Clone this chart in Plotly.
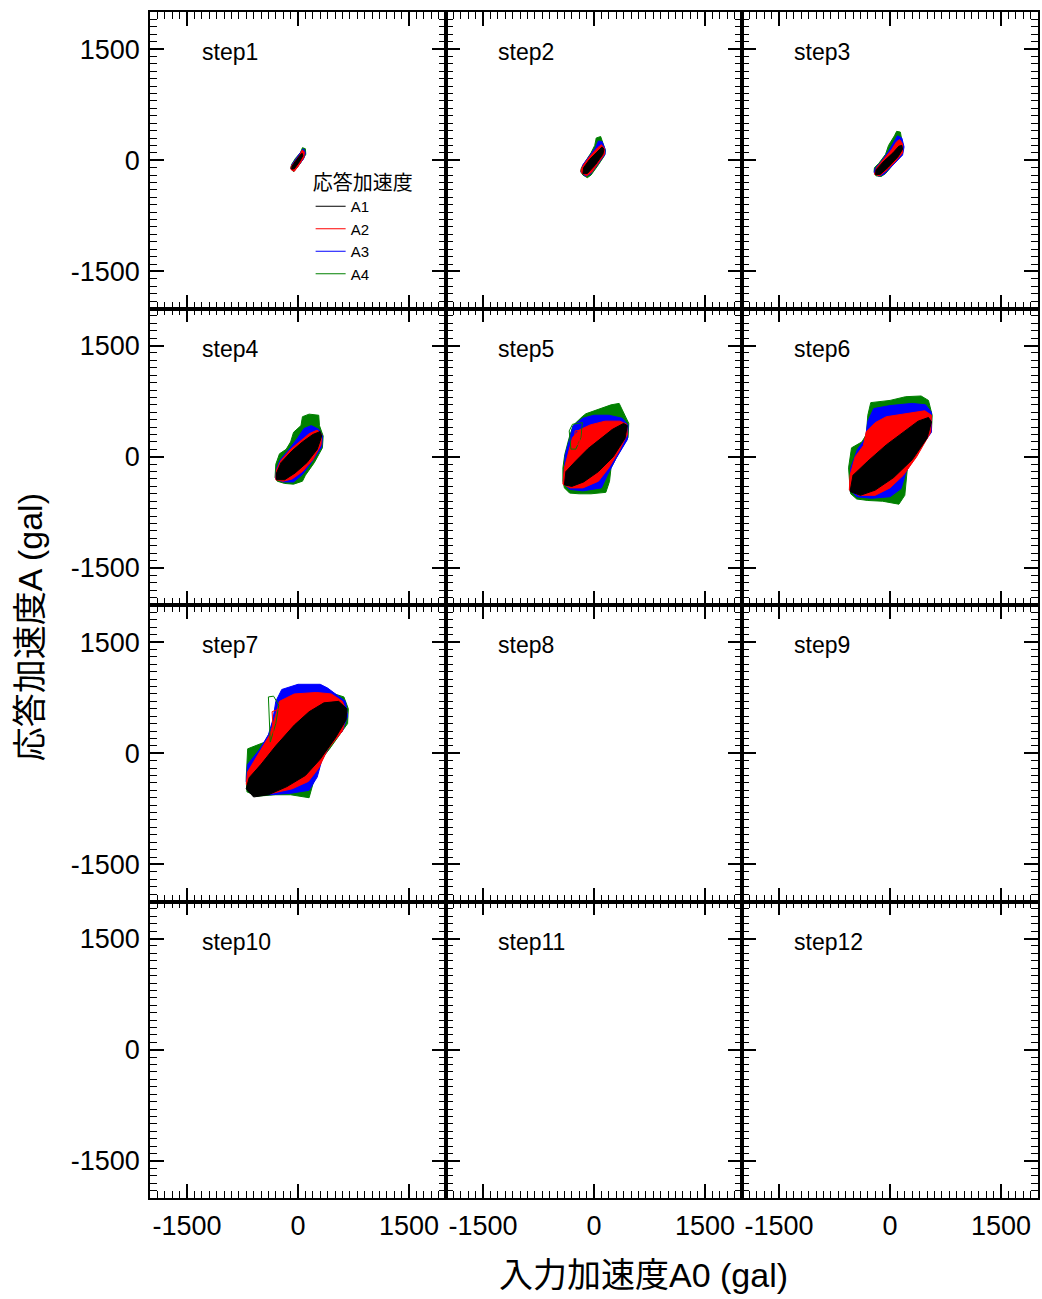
import plotly.graph_objects as go
from plotly.subplots import make_subplots

# ---------------- data (units: gal) ----------------
STEP_NAMES = ["step1", "step2", "step3", "step4", "step5", "step6",
              "step7", "step8", "step9", "step10", "step11", "step12"]
SERIES = ["A1", "A2", "A3", "A4"]
COLORS = ["#000000", "#ff0000", "#0000ff", "#008000"]
TICK_VALS = [-1500, 0, 1500]
TICK_TEXT = ["-1500", "0", "1500"]
AXIS_RANGE = [-2000, 2000]

# outline of each response loop cloud (x = input A0, y = response A)
step1_A1 = [(-85, -120), (-50, -115), (20, -20), (65, 60), (55, 95), (25, 65), (-40, -20), (-80, -80)]
step1_A2 = [(-95, -125), (-50, -150), (10, -70), (80, 40), (85, 115), (55, 135), (20, 65), (-50, -25), (-90, -80)]
step1_A3 = [(-95, -115), (-55, -145), (0, -80), (75, 20), (100, 100), (75, 155), (40, 115), (-25, 25), (-80, -55)]
step1_A4 = [(-100, -110), (-60, -155), (-20, -110), (60, 0), (105, 80), (100, 155), (60, 170), (35, 105), (-35, 25), (-85, -55)]

step2_A1 = [(-150, -180), (-90, -180), (20, -60), (120, 80), (135, 150), (110, 180), (40, 110), (-60, 10), (-140, -100)]
step2_A2 = [(-170, -170), (-100, -210), (-30, -160), (60, -40), (140, 80), (140, 160), (100, 210), (50, 170), (-50, 60), (-140, -60), (-175, -130)]
step2_A3 = [(-175, -160), (-120, -215), (-50, -190), (60, -50), (150, 80), (150, 150), (110, 250), (60, 260), (20, 170), (-60, 60), (-150, -60)]
step2_A4 = [(-180, -150), (-150, -200), (-90, -235), (-40, -200), (60, -60), (140, 60), (155, 130), (120, 250), (90, 320), (30, 300), (10, 200), (-40, 100), (-120, -20), (-170, -100)]

step3_A1 = [(-195, -195), (-130, -190), (-20, -90), (110, 50), (170, 150), (160, 200), (120, 190), (40, 100), (-80, -10), (-190, -130)]
step3_A2 = [(-210, -190), (-140, -210), (-40, -130), (70, -20), (170, 100), (170, 220), (130, 280), (90, 250), (20, 140), (-80, 20), (-180, -100)]
step3_A3 = [(-215, -170), (-150, -215), (-80, -190), (40, -70), (170, 70), (190, 180), (160, 300), (100, 330), (60, 260), (-20, 120), (-120, -20), (-200, -110)]
step3_A4 = [(-215, -150), (-190, -210), (-120, -220), (-60, -180), (40, -60), (150, 60), (180, 160), (160, 280), (140, 380), (90, 390), (60, 330), (-20, 200), (-60, 80), (-150, -40), (-210, -100)]

step4_A1 = [(-290, -310), (-180, -310), (-40, -220), (120, -80), (260, 100), (320, 280), (300, 340), (200, 300), (60, 200), (-80, 80), (-230, -80), (-290, -220)]
step4_A2 = [(-300, -310), (-200, -330), (-80, -300), (60, -200), (200, -40), (310, 160), (320, 300), (260, 360), (150, 310), (40, 220), (-100, 100), (-230, -50), (-290, -180)]
step4_A3 = [(-300, -300), (-200, -340), (-60, -340), (60, -240), (180, -80), (320, 130), (330, 280), (280, 370), (180, 420), (80, 380), (0, 260), (-120, 100), (-240, -40), (-290, -160)]
step4_A4 = [(-310, -280), (-280, -330), (-180, -360), (-60, -370), (60, -330), (100, -250), (220, -80), (330, 120), (340, 280), (290, 420), (280, 560), (150, 575), (60, 540), (40, 420), (-60, 330), (-100, 200), (-160, 100), (-250, 40), (-300, -100)]

step5_A1 = [(-400, -380), (-300, -400), (-140, -340), (60, -200), (260, 0), (420, 250), (450, 420), (400, 450), (250, 370), (80, 230), (-80, 110), (-250, -60), (-380, -200)]
step5_A2 = [(-420, -370), (-320, -420), (-150, -420), (60, -330), (200, -150), (340, 80), (450, 300), (440, 440), (350, 480), (150, 480), (-50, 430), (-200, 360), (-290, 260), (-330, 100), (-400, -150)]
step5_A3 = [(-410, -360), (-330, -440), (-150, -460), (100, -420), (180, -250), (300, -20), (450, 230), (460, 430), (380, 520), (200, 560), (0, 560), (-150, 520), (-280, 420), (-330, 250), (-390, 20)]
step5_A4 = [(-420, -330), (-400, -420), (-330, -490), (-200, -500), (-40, -500), (160, -480), (210, -330), (230, -150), (330, 40), (460, 260), (470, 450), (400, 600), (340, 720), (230, 700), (80, 650), (-110, 580), (-160, 540), (-285, 420), (-340, 240), (-395, 30), (-420, -150)]
# loose single loops visible at the edge of the clouds
step5_A4_loop = [(-312, 103), (-335, 348), (-291, 438), (-157, 460), (-178, 259), (-245, 103)]
step5_A2_loop = [(-268, 147), (-255, 348), (-178, 358), (-205, 170)]

step6_A1 = [(-540, -470), (-400, -520), (-200, -450), (50, -280), (300, -40), (500, 250), (560, 470), (520, 530), (380, 480), (180, 330), (-50, 160), (-300, -60), (-500, -250)]
step6_A2 = [(-550, -450), (-420, -520), (-200, -520), (0, -420), (180, -250), (360, 0), (550, 330), (560, 560), (470, 620), (250, 590), (-50, 540), (-200, 460), (-320, 340), (-360, 150), (-470, 0), (-540, -250)]
step6_A3 = [(-540, -440), (-450, -540), (-250, -560), (0, -540), (150, -430), (220, -200), (380, 80), (560, 330), (560, 600), (480, 700), (300, 720), (0, 690), (-220, 650), (-300, 480), (-330, 250), (-440, 100), (-530, -150)]
step6_A4 = [(-540, -420), (-530, -500), (-450, -570), (-300, -590), (-100, -600), (120, -640), (200, -520), (220, -300), (240, -100), (380, 120), (560, 350), (570, 560), (520, 760), (420, 820), (210, 810), (0, 760), (-260, 730), (-300, 560), (-320, 300), (-380, 200), (-520, 120), (-560, -150)]

step7_A1 = [(-700, -480), (-600, -590), (-400, -560), (-150, -450), (100, -300), (300, -80), (500, 200), (650, 450), (660, 600), (550, 700), (350, 680), (150, 560), (-50, 380), (-300, 100), (-500, -150), (-660, -330)]
step7_A2 = [(-700, -420), (-580, -530), (-350, -540), (-80, -480), (140, -380), (280, -200), (400, 50), (600, 300), (660, 550), (600, 700), (450, 800), (250, 820), (-50, 800), (-250, 700), (-320, 450), (-380, 250), (-500, 50), (-680, -250)]
step7_A3 = [(-700, -380), (-600, -540), (-380, -560), (-100, -540), (150, -500), (260, -320), (320, -100), (430, 100), (600, 300), (670, 500), (640, 700), (400, 880), (300, 930), (0, 930), (-220, 860), (-300, 700), (-340, 450), (-400, 250), (-520, 50), (-680, -150)]
step7_A4 = [(-700, -330), (-690, -520), (-560, -580), (-300, -560), (-100, -560), (150, -600), (200, -420), (250, -250), (300, -100), (420, 50), (560, 250), (670, 400), (680, 600), (620, 760), (400, 830), (100, 840), (-150, 820), (-260, 760), (-320, 500), (-380, 280), (-450, 150), (-680, 60)]
step7_A4_loop = [(-375, 150), (-400, 760), (-330, 770), (-260, 650), (-300, 400)]
step7_A2_loop = [(-330, 200), (-350, 560), (-250, 600), (-230, 380)]

STEP_DATA = {
    1: [step1_A1, step1_A2, step1_A3, step1_A4],
    2: [step2_A1, step2_A2, step2_A3, step2_A4],
    3: [step3_A1, step3_A2, step3_A3, step3_A4],
    4: [step4_A1, step4_A2, step4_A3, step4_A4],
    5: [step5_A1, step5_A2, step5_A3, step5_A4],
    6: [step6_A1, step6_A2, step6_A3, step6_A4],
    7: [step7_A1, step7_A2, step7_A3, step7_A4],
}
# (step, series index, points)
STRAY_LOOPS = [(5, 3, step5_A4_loop), (5, 1, step5_A2_loop),
               (7, 3, step7_A4_loop), (7, 1, step7_A2_loop)]

FONT = "Liberation Sans, Arial, Noto Sans CJK JP, sans-serif"

FIG_W, FIG_H = 1042, 1299
M_L, M_R, M_T, M_B = 150, 2, 12, 101
PW = FIG_W - M_L - M_R
PH = FIG_H - M_T - M_B

fig = make_subplots(rows=4, cols=3, horizontal_spacing=0, vertical_spacing=0)


def cell(k):
    return (k - 1) // 3 + 1, (k - 1) % 3 + 1


for k, name in enumerate(STEP_NAMES, start=1):
    r, c = cell(k)
    loops = STEP_DATA.get(k)
    if loops:
        # draw A4 first, A1 last (on top)
        for idx in [3, 2, 1, 0]:
            pts = loops[idx]
            xs = [p[0] for p in pts] + [pts[0][0]]
            ys = [p[1] for p in pts] + [pts[0][1]]
            fig.add_trace(go.Scatter(x=xs, y=ys, mode="lines", fill="toself",
                                     fillcolor=COLORS[idx],
                                     line=dict(color=COLORS[idx], width=1),
                                     showlegend=False, hoverinfo="skip"),
                          row=r, col=c)
        for (sk, idx, pts) in STRAY_LOOPS:
            if sk == k:
                fig.add_trace(go.Scatter(x=[p[0] for p in pts] + [pts[0][0]],
                                         y=[p[1] for p in pts] + [pts[0][1]],
                                         mode="lines",
                                         line=dict(color=COLORS[idx], width=1),
                                         showlegend=False, hoverinfo="skip"),
                              row=r, col=c)
    else:
        # empty panel (no data recorded) - keeps the subplot drawn
        fig.add_trace(go.Scatter(x=[], y=[], mode="lines", showlegend=False,
                                 hoverinfo="skip"), row=r, col=c)
    axn = "" if k == 1 else str(k)
    fig.add_annotation(text=name, xref=f"x{axn} domain", yref=f"y{axn} domain",
                       x=0.168, y=0.865, xanchor="left", yanchor="middle",
                       showarrow=False, font=dict(size=23, color="black", family=FONT))

# legend entries (line samples)
for i, (s, col) in enumerate(zip(SERIES, COLORS)):
    fig.add_trace(go.Scatter(x=[None], y=[None], mode="lines", name=s,
                             line=dict(color=col, width=1), legendrank=i + 1,
                             showlegend=True), row=1, col=1)

for k in range(1, 13):
    r, c = cell(k)
    common = dict(range=AXIS_RANGE, showgrid=False, zeroline=False,
                  showline=True, linecolor="black", linewidth=1.5,
                  mirror="allticks", ticks="inside", ticklen=14, tickwidth=1.5,
                  tickcolor="black", tickmode="array", tickvals=TICK_VALS,
                  ticktext=TICK_TEXT, ticklabelstandoff=3,
                  minor=dict(tickmode="linear", tick0=0, dtick=100, ticks="inside",
                             ticklen=7, tickwidth=1, tickcolor="black"),
                  tickfont=dict(size=27, color="black", family=FONT))
    fig.update_xaxes(**common, showticklabels=(r == 4), row=r, col=c)
    fig.update_yaxes(**common, showticklabels=(c == 1), row=r, col=c)


# page-pixel positions (reference) converted to paper coords
def px(xp):
    return (xp - M_L) / PW


def py(yp):
    return (FIG_H - M_B - yp) / PH


fig.add_annotation(text="入力加速度A0 (gal)", xref="paper", yref="paper",
                   x=px(645), y=py(1275),
                   xanchor="center", yanchor="middle", showarrow=False,
                   font=dict(size=34, color="black", family=FONT))
fig.add_annotation(text="応答加速度A (gal)", xref="paper", yref="paper",
                   x=px(30), y=py(627), textangle=-90,
                   xanchor="center", yanchor="middle", showarrow=False,
                   font=dict(size=34, color="black", family=FONT))

fig.update_layout(
    width=FIG_W, height=FIG_H,
    margin=dict(l=M_L, r=M_R, t=M_T, b=M_B),
    plot_bgcolor="white", paper_bgcolor="white",
    font=dict(family=FONT, color="black"),
    legend=dict(x=px(311), y=py(164), xanchor="left", yanchor="top",
                bgcolor="rgba(0,0,0,0)", borderwidth=0,
                title=dict(text="応答加速度", font=dict(size=20, family=FONT)),
                font=dict(size=15, family=FONT), tracegroupgap=0),
)

fig.write_html("out.html", config={"displayModeBar": False},
               post_script="document.body.style.margin='0px';document.body.style.overflow='hidden';")
